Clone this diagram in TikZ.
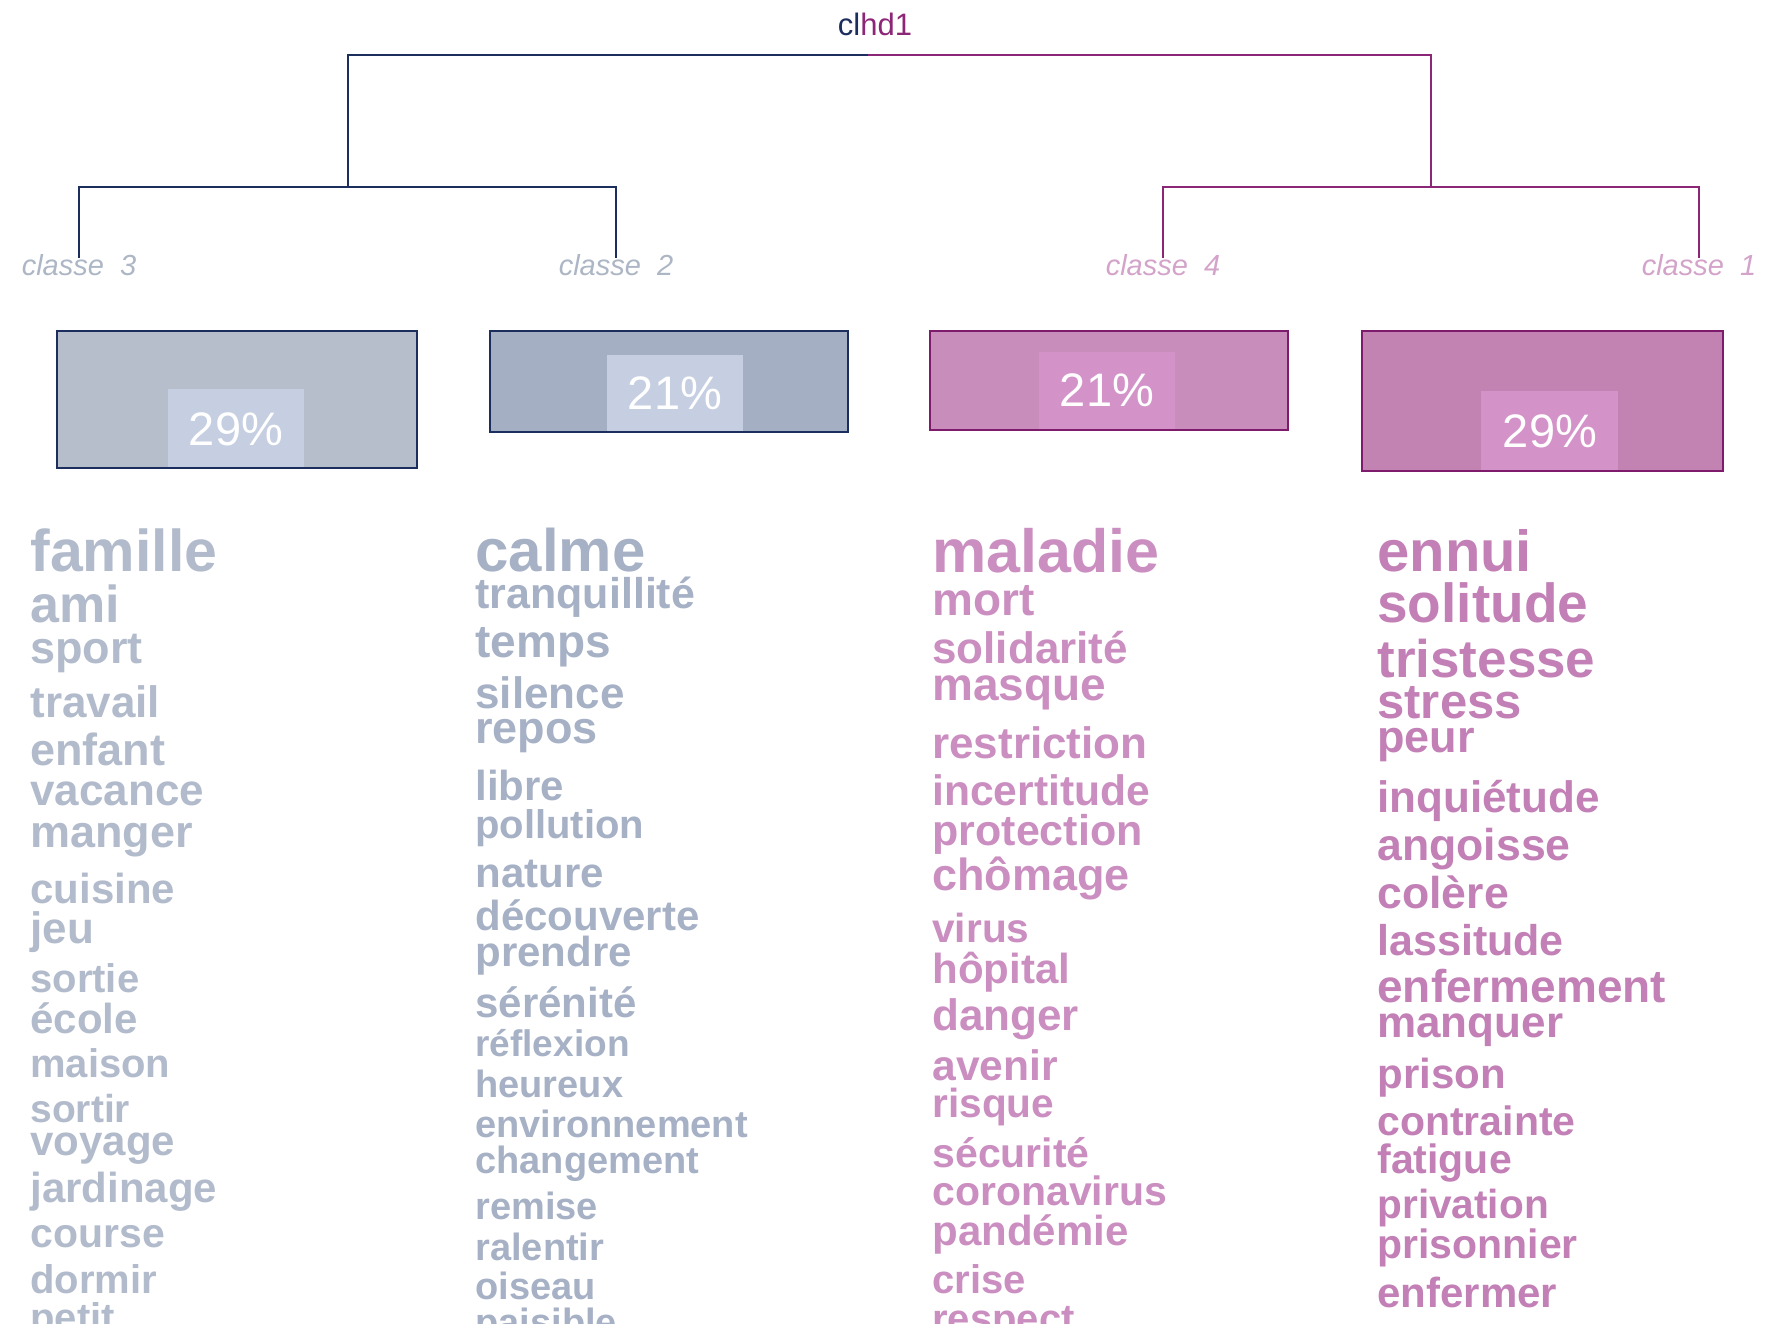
\documentclass[tikz,border=0pt]{standalone}
\usepackage{fontspec}
\setmainfont{Liberation Sans}
\usepackage{tikz}

\definecolor{navyline}{HTML}{1B2E5E}
\definecolor{magline}{HTML}{8C2677}
\definecolor{magborder}{HTML}{7E1B6C}
\definecolor{lblblue}{HTML}{ADB6C5}
\definecolor{lblpink}{HTML}{D3A3CA}
\definecolor{boxthree}{HTML}{B6BECC}
\definecolor{boxtwo}{HTML}{A4AFC3}
\definecolor{boxfour}{HTML}{C98DBB}
\definecolor{boxone}{HTML}{C283B3}
\definecolor{innerblue}{HTML}{C5CFE1}
\definecolor{innerpink}{HTML}{D393C9}
\definecolor{wordthree}{HTML}{B2BBCB}
\definecolor{wordtwo}{HTML}{A6B1C6}
\definecolor{wordfour}{HTML}{CB8EC0}
\definecolor{wordone}{HTML}{C280B6}

\tikzset{
  treeline/.style={line width=1.2pt},
  classlabel/.style={font=\fontsize{14.5}{14.5}\selectfont\itshape, anchor=base, inner sep=0pt},
  pctbox/.style={font=\fontsize{23.5}{23.5}\selectfont, text=white, inner sep=0pt},
  word/.style={font=\fontsize{#1}{#1}\selectfont\bfseries, anchor=base west, inner sep=0pt},
  wthree/.style={word=#1, text=wordthree},
  wtwo/.style={word=#1, text=wordtwo},
  wfour/.style={word=#1, text=wordfour},
  wone/.style={word=#1, text=wordone},
}

\begin{document}
\begin{tikzpicture}[x=0.5pt, y=-0.5pt]
			\useasboundingbox (0,0) rectangle (1778,1323);
			\clip (0,0) rectangle (1778,1323);
			
			% Title of the tree
			\node[anchor=base, inner sep=0pt, font=\fontsize{15.5}{15.5}\selectfont] (title) at (875,35)
				{\textcolor{navyline}{cl}\textcolor{magline}{hd1}};
			
			% Class labels
			\node[classlabel, text=lblblue] (cl3) at (79,275) {classe~~3};
			\node[classlabel, text=lblblue] (cl2) at (616,275) {classe~~2};
			\node[classlabel, text=lblpink] (cl4) at (1163,275) {classe~~4};
			\node[classlabel, text=lblpink] (cl1) at (1699,275) {classe~~1};
			
			% Dendrogram
			\coordinate (root) at (868,55);
			\coordinate (n32) at (348,187);
			\coordinate (n41) at (1431,187);
			\draw[treeline, navyline] ([yshift=-2pt]cl3.north) |- (n32) -| ([yshift=-2pt]cl2.north);
			\draw[treeline, navyline] (n32) |- (root);
			\draw[treeline, magline] (root) -| (n41);
			\draw[treeline, magline] ([yshift=-2pt]cl4.north) |- (n41) -| ([yshift=-2pt]cl1.north);
			
			% Boxes with the class sizes
			\draw[line width=1.4pt, navyline, fill=boxthree] (57,331) rectangle (417,468);
			\fill[innerblue] (168,389) rectangle (304,467);
			\node[pctbox] (p3) at (236,429) {29\%};
			
			\draw[line width=1.4pt, navyline, fill=boxtwo] (490,331) rectangle (848,432);
			\fill[innerblue] (607,355) rectangle (743,431);
			\node[pctbox] (p2) at (675,393) {21\%};
			
			\draw[line width=1.4pt, magborder, fill=boxfour] (930,331) rectangle (1288,430);
			\fill[innerpink] (1039,352) rectangle (1175,429);
			\node[pctbox] (p4) at (1107,390) {21\%};
			
			\draw[line width=1.4pt, magborder, fill=boxone] (1362,331) rectangle (1723,471);
			\fill[innerpink] (1481,391) rectangle (1618,470);
			\node[pctbox] (p1) at (1550,431) {29\%};
			
			% Words of classe 3
			\node[wthree=29.5] (famille) at (30,571) {famille};
			\node[wthree=26] (ami) at (30,622) {ami};
			\node[wthree=22.5] (sport) at (30,663) {sport};
			\node[wthree=22] (travail) at (30,717) {travail};
			\node[wthree=22.5] (enfant) at (30,765) {enfant};
			\node[wthree=22] (vacance) at (30,805) {vacance};
			\node[wthree=22.5] (manger) at (30,847) {manger};
			\node[wthree=21] (cuisine) at (30,903) {cuisine};
			\node[wthree=22] (jeu) at (30,943) {jeu};
			\node[wthree=20] (sortie) at (30,992) {sortie};
			\node[wthree=21] (ecole) at (30,1033) {école};
			\node[wthree=20] (maison) at (30,1077) {maison};
			\node[wthree=19.5] (sortir) at (30,1122) {sortir};
			\node[wthree=21] (voyage) at (30,1155) {voyage};
			\node[wthree=21] (jardinage) at (30,1202) {jardinage};
			\node[wthree=20.5] (course) at (30,1247) {course};
			\node[wthree=20] (dormir) at (30,1293) {dormir};
			\node[wthree=20] (petit) at (30,1331) {petit};
			
			% Words of classe 2
			\node[wtwo=30] (calme) at (475,571) {calme};
			\node[wtwo=21.5] (tranquillite) at (475,608) {tranquillité};
			\node[wtwo=23] (temps) at (475,657) {temps};
			\node[wtwo=22] (silence) at (475,708) {silence};
			\node[wtwo=22.5] (repos) at (475,743) {repos};
			\node[wtwo=21] (libre) at (475,800) {libre};
			\node[wtwo=20] (pollution) at (475,838) {pollution};
			\node[wtwo=21] (nature) at (475,887) {nature};
			\node[wtwo=21] (decouverte) at (475,930) {découverte};
			\node[wtwo=21] (prendre) at (475,966) {prendre};
			\node[wtwo=21] (serenite) at (475,1017) {sérénité};
			\node[wtwo=18.5] (reflexion) at (475,1056) {réflexion};
			\node[wtwo=19] (heureux) at (475,1097) {heureux};
			\node[wtwo=19] (environnement) at (475,1137) {environnement};
			\node[wtwo=19] (changement) at (475,1173) {changement};
			\node[wtwo=19] (remise) at (475,1219) {remise};
			\node[wtwo=19] (ralentir) at (475,1260) {ralentir};
			\node[wtwo=19] (oiseau) at (475,1299) {oiseau};
			\node[wtwo=19] (paisible) at (475,1335) {paisible};
			
			% Words of classe 4
			\node[wfour=30.5] (maladie) at (932,572) {maladie};
			\node[wfour=23] (mort) at (932,615) {mort};
			\node[wfour=22] (solidarite) at (932,663) {solidarité};
			\node[wfour=23] (masque) at (932,700) {masque};
			\node[wfour=22] (restriction) at (932,758) {restriction};
			\node[wfour=21.3] (incertitude) at (932,805) {incertitude};
			\node[wfour=21.5] (protection) at (932,845) {protection};
			\node[wfour=22.5] (chomage) at (932,890) {chômage};
			\node[wfour=20.3] (virus) at (932,942) {virus};
			\node[wfour=21] (hopital) at (932,983) {hôpital};
			\node[wfour=22] (danger) at (932,1030) {danger};
			\node[wfour=21.3] (avenir) at (932,1080) {avenir};
			\node[wfour=20.3] (risque) at (932,1117) {risque};
			\node[wfour=20.5] (securite) at (932,1167) {sécurité};
			\node[wfour=20.5] (coronavirus) at (932,1205) {coronavirus};
			\node[wfour=21] (pandemie) at (932,1245) {pandémie};
			\node[wfour=20] (crise) at (932,1293) {crise};
			\node[wfour=20] (respect) at (932,1332) {respect};
			
			% Words of classe 1
			\node[wone=29] (ennui) at (1377,571) {ennui};
			\node[wone=27.5] (solitude) at (1377,622) {solitude};
			\node[wone=26.5] (tristesse) at (1377,677) {tristesse};
			\node[wone=24.5] (stress) at (1377,718) {stress};
			\node[wone=22.5] (peur) at (1377,752) {peur};
			\node[wone=22] (inquietude) at (1377,812) {inquiétude};
			\node[wone=22.3] (angoisse) at (1377,860) {angoisse};
			\node[wone=22.3] (colere) at (1377,908) {colère};
			\node[wone=21.5] (lassitude) at (1377,955) {lassitude};
			\node[wone=23] (enfermement) at (1377,1002) {enfermement};
			\node[wone=22] (manquer) at (1377,1037) {manquer};
			\node[wone=21] (prison) at (1377,1088) {prison};
			\node[wone=20.5] (contrainte) at (1377,1135) {contrainte};
			\node[wone=20.5] (fatigue) at (1377,1173) {fatigue};
			\node[wone=20.3] (privation) at (1377,1218) {privation};
			\node[wone=20.5] (prisonnier) at (1377,1258) {prisonnier};
			\node[wone=21] (enfermer) at (1377,1307) {enfermer};
			
		\end{tikzpicture}
\end{document}
